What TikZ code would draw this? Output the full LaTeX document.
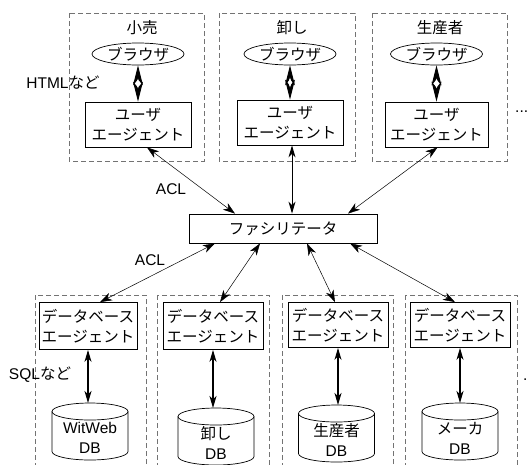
\documentclass[tikz,border=0pt]{standalone}
\usepackage{fontspec}
\setmainfont{Liberation Sans}
\newfontfamily\lat{Liberation Sans}
\newfontfamily\jp{Noto Sans CJK JP}
\usetikzlibrary{shapes.geometric,arrows.meta}
\begin{document}
\begin{tikzpicture}[x=1pt,y=-1pt,
  every node/.style={font=\fontsize{15.5}{20}\selectfont\jp},
  grp/.style={draw=black!55, dash pattern=on 5pt off 3pt, line width=0.6pt},
  box/.style={draw, line width=0.8pt, align=center, inner sep=0pt},
  ell/.style={draw, ellipse, line width=0.7pt, minimum width=92pt, minimum height=22pt, inner sep=0pt},
  cyl/.style={draw, line width=0.7pt},
  acl/.style={line width=0.5pt, {Stealth[length=12pt,width=8pt,inset=3.5pt]}-{Stealth[length=12pt,width=8pt,inset=3.5pt]}},
  vrt/.style={line width=1pt, {Stealth[length=12pt,width=7pt,inset=3.5pt]}-{Stealth[length=12pt,width=7pt,inset=3.5pt]}},
  dia/.style={line width=1pt, {Stealth[length=20pt,width=10pt,inset=6pt]}-{Stealth[length=20pt,width=10pt,inset=6pt]}},
  dnode/.style={diamond, fill=white, inner sep=0pt, minimum width=4pt, minimum height=10pt}
]
\useasboundingbox (0,0) rectangle (529,464);
\clip (0,0) rectangle (529,464);

% top groups
\draw[grp] (69,13) rectangle (204,161);
\draw[grp] (219,13) rectangle (355,161);
\draw[grp] (372,13) rectangle (507,161);
\node (g1) at (142,28) {小売};
\node (g2) at (292,28) {卸し};
\node (g3) at (440,28) {生産者};

\node[ell] (e1) at (138,54) {ブラウザ};
\node[ell] (e2) at (290,54) {ブラウザ};
\node[ell] (e3) at (436.5,54) {ブラウザ};

\node[box, minimum width=106pt, minimum height=45pt] (u1) at (138,124.5) {ユーザ\\エージェント};
\node[box, minimum width=106pt, minimum height=45pt] (u2) at (290,122.5) {ユーザ\\エージェント};
\node[box, minimum width=103pt, minimum height=45pt] (u3) at (436.5,124.5) {ユーザ\\エージェント};

\draw[dia] (e1.south) -- (u1.north) node[midway, dnode] {};
\draw[dia] (e2.south) -- (u2.north) node[midway, dnode] {};
\draw[dia] (e3.south) -- (u3.north) node[midway, dnode] {};

\node (html) at (63,83) {{\lat HTML}など};
\node (dots1) [anchor=west, inner sep=0pt] at (515,112) {\lat ...};

% facilitator
\node[box, minimum width=188pt, minimum height=29pt] (fac) at (283,228.5) {ファシリテータ};

\draw[acl] ([xshift=9pt]u1.south) -- ([xshift=-48pt]fac.north);
\draw[vrt] ([xshift=2pt]u2.south) -- ([xshift=9pt]fac.north);
\draw[acl] ([xshift=1pt]u3.south) -- ([xshift=65pt]fac.north);
\node (acl1) at (171,189) {\lat ACL};
\node (acl2) at (150,260) {\lat ACL};

% bottom groups
\draw[grp] (35,295) rectangle (146,480);
\draw[grp] (157,295) rectangle (269,480);
\draw[grp] (282,295) rectangle (393,480);
\draw[grp] (405,295) rectangle (517,480);

\node[box, minimum width=98pt, minimum height=47pt] (d1) at (88,326) {データベース\\エージェント};
\node[box, minimum width=100pt, minimum height=47pt] (d2) at (213,326) {データベース\\エージェント};
\node[box, minimum width=100pt, minimum height=45pt] (d3) at (338,325) {データベース\\エージェント};
\node[box, minimum width=100pt, minimum height=45pt] (d4) at (460,325) {データベース\\エージェント};

\draw[acl] ([xshift=-68pt]fac.south) -- ([xshift=12pt]d1.north);
\draw[acl] ([xshift=-23pt]fac.south) -- ([xshift=7pt]d2.north);
\draw[acl] ([xshift=24pt]fac.south) -- ([xshift=-3pt]d3.north);
\draw[acl] ([xshift=67pt]fac.south) -- ([xshift=-5pt]d4.north);

% databases
\foreach \n/\cx/\tp/\txt in {b1/90/403/{\lat WitWeb}, b2/216/408/{卸し}, b3/336.5/405/{生産者}, b4/460/403/{メーカ}} {
  \draw[cyl] (\cx-38,\tp+8.5) -- (\cx-38,\tp+48.5) arc[start angle=180, end angle=0, x radius=38, y radius=8.5] -- (\cx+38,\tp+8.5);
  \draw[cyl] (\cx,\tp+8.5) ellipse[x radius=38, y radius=8.5];
  \coordinate (\n) at (\cx,\tp);
  \node[align=center] (\n t) at (\cx,\tp+35) {\txt\\{\lat DB}};
}

\draw[vrt, line width=1.2pt] (d1.south) -- (d1.south |- b1);
\draw[vrt, line width=1.2pt] (d2.south) -- (d2.south |- b2);
\draw[vrt, line width=1.2pt] (d3.south) -- (d3.south |- b3);
\draw[vrt, line width=1.2pt] (d4.south) -- (d4.south |- b4);

\node (sql) at (40,375) {{\lat SQL}など};
\node (dots2) [anchor=west, inner sep=0pt] at (523,380) {\lat .};
\end{tikzpicture}
\end{document}
